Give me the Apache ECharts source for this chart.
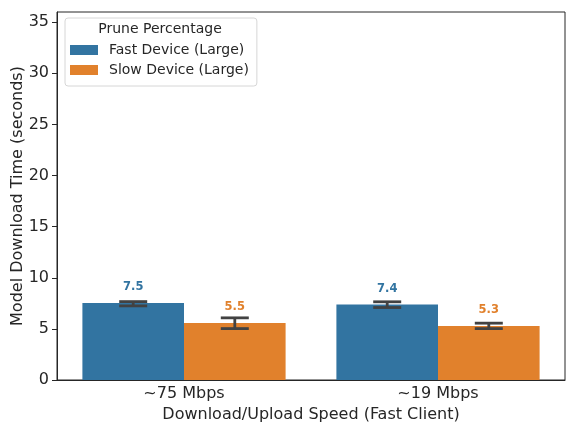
<!DOCTYPE html>
<html><head><meta charset="utf-8">
<script src="https://cdn.jsdelivr.net/npm/echarts@6/dist/echarts.min.js"></script>
<style>html,body{margin:0;padding:0;background:#fff}#c{width:576px;height:432px}</style>
</head><body><div id="c"></div>
<script>
const categories = ['~75 Mbps', '~19 Mbps'];
const seriesNames = ['Fast Device (Large)', 'Slow Device (Large)'];
const fastValues = [7.53, 7.38];
const slowValues = [5.57, 5.29];
const fastErrLow = [7.25, 7.09];
const fastErrHigh = [7.67, 7.65];
const slowErrLow = [5.03, 5.03];
const slowErrHigh = [6.08, 5.56];
const fastLabels = ['7.5', '7.4'];
const slowLabels = ['5.5', '5.3'];
const yTicks = [0, 5, 10, 15, 20, 25, 30, 35];
const yTitle = 'Model Download Time (seconds)';

const colors = ['#3274a1', '#e1812c'];
const FONT = 'DejaVu Sans';
const axisColor = '#262626';

function errSeries(idx, lows, highs) {
  return {
    type: 'custom',
    z: 10,
    silent: true,
    data: categories.map((c, i) => [i, lows[i], highs[i]]),
    renderItem: function (params, api) {
      const i = api.value(0);
      const lo = api.coord([i, api.value(1)]);
      const hi = api.coord([i, api.value(2)]);
      const band = api.size([1, 0])[0];
      const barW = band * 0.8 / 2;
      const x = lo[0] + (idx === 0 ? -barW / 2 : barW / 2);
      const cap = 14;
      const st = { stroke: '#424242', lineWidth: 2.8 };
      return { type: 'group', children: [
        { type: 'line', shape: { x1: x, y1: lo[1], x2: x, y2: hi[1] }, style: st },
        { type: 'line', shape: { x1: x - cap, y1: lo[1], x2: x + cap, y2: lo[1] }, style: st },
        { type: 'line', shape: { x1: x - cap, y1: hi[1], x2: x + cap, y2: hi[1] }, style: st }
      ]};
    }
  };
}

const chart = echarts.init(document.getElementById('c'), null, { renderer: 'canvas' });
chart.setOption({
  animation: false,
  textStyle: { fontFamily: FONT },
  grid: { left: 57, right: 11, top: 12, bottom: 52, containLabel: false, outerBoundsMode: 'none',
    show: true, borderColor: axisColor, borderWidth: 1, backgroundColor: 'transparent' },
  legend: {
    show: true,
    left: 65, top: 18,
    orient: 'vertical',
    data: seriesNames,
    itemWidth: 28, itemHeight: 10,
    itemGap: 6,
    padding: [25, 8, 9, 5],
    backgroundColor: '#fff',
    borderColor: '#d6d6d6', borderWidth: 1, borderRadius: 3,
    textStyle: { fontSize: 14, color: '#262626', fontFamily: FONT, padding: [0, 0, 0, 6] },
    icon: 'rect'
  },
  graphic: [{
    type: 'text', z: 100,
    style: { x: 160, y: 29, text: 'Prune Percentage', fontSize: 14, fill: '#262626', fontFamily: FONT,
      align: 'center', verticalAlign: 'middle' }
  }, {
    type: 'text', z: 100, x: 18, y: 196, rotation: Math.PI / 2,
    style: { x: 0, y: 0, text: yTitle, fontSize: 16, fill: '#262626', fontFamily: FONT,
      align: 'center', verticalAlign: 'middle' }
  }],
  xAxis: {
    type: 'category',
    data: categories,
    name: 'Download/Upload Speed (Fast Client)',
    nameLocation: 'middle', nameGap: 26,
    nameTextStyle: { fontSize: 16, color: '#262626', fontFamily: FONT },
    axisLine: { lineStyle: { color: axisColor, width: 1 } },
    axisTick: { alignWithLabel: true, length: 5, lineStyle: { color: axisColor } },
    axisLabel: { fontSize: 16, color: '#262626', margin: 6, fontFamily: FONT },
    splitLine: { show: false }
  },
  yAxis: {
    type: 'value', min: 0, max: 36, interval: 5,
    axisLine: { show: true, lineStyle: { color: axisColor, width: 1 } },
    axisTick: { show: true, length: 5, lineStyle: { color: axisColor } },
    axisLabel: { fontSize: 16, color: '#262626', margin: 8, fontFamily: FONT,
      formatter: v => yTicks.includes(v) ? String(v) : '' , showMaxLabel: false},
    splitLine: { show: false }
  },
  series: [
    { name: seriesNames[0], type: 'bar', data: fastValues, barGap: '0%', barCategoryGap: '20%',
      itemStyle: { color: colors[0] },
      label: { show: true, position: 'top', distance: 10, formatter: p => fastLabels[p.dataIndex],
        fontSize: 11.5, fontWeight: 'bold', color: colors[0], fontFamily: FONT } },
    { name: seriesNames[1], type: 'bar', data: slowValues, barGap: '0%', barCategoryGap: '20%',
      itemStyle: { color: colors[1] },
      label: { show: true, position: 'top', distance: 10, formatter: p => slowLabels[p.dataIndex],
        fontSize: 11.5, fontWeight: 'bold', color: colors[1], fontFamily: FONT } },
    errSeries(0, fastErrLow, fastErrHigh),
    errSeries(1, slowErrLow, slowErrHigh)
  ]
});
</script></body></html>
